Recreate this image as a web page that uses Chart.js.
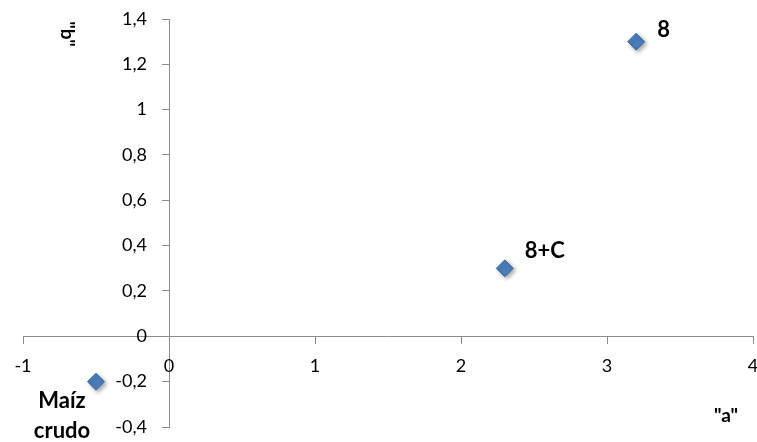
<!DOCTYPE html>
<html>
<head>
<meta charset="utf-8">
<script src="https://cdn.jsdelivr.net/npm/chart.js@4/dist/chart.umd.min.js"></script>
<style>
  html, body { margin: 0; padding: 0; background: #fff; overflow: hidden; }
  #wrap { width: 757px; height: 442px; }
  canvas { display: block; }
</style>
</head>
<body>
<div id="wrap"><canvas id="chart"></canvas></div>
<script>
const samples = ['8', '8+C', 'Maíz crudo'];
const aValues = [3.2, 2.3, -0.5];
const bValues = [1.3, 0.3, -0.2];
const xTicks = [-1, 0, 1, 2, 3, 4];
const yTicks = [-0.4, -0.2, 0, 0.2, 0.4, 0.6, 0.8, 1, 1.2, 1.4];

const AXIS = '#8c8c8c';
const FONT = 'Lato, "Open Sans", sans-serif';

const fmt = v => String(Number(v.toFixed(1))).replace('.', ',');

// point labels, offset from each marker
const labelOffsets = [
  { dx: 21, dy: -12, align: 'left', lines: ['8'] },
  { dx: 20, dy: -17, align: 'left', lines: ['8+C'] },
  { dx: -34, dy: 19, align: 'center', lines: ['Maíz', 'crudo'] },
];

const pointLabels = {
  id: 'pointLabels',
  beforeDatasetDraw(chart) {
    const ctx = chart.ctx;
    ctx.save();
    ctx.shadowColor = 'rgba(0,0,0,0.35)';
    ctx.shadowBlur = 4;
    ctx.shadowOffsetX = 2;
    ctx.shadowOffsetY = 2;
  },
  afterDatasetDraw(chart) {
    chart.ctx.restore();
  },
  afterDraw(chart) {
    const ctx = chart.ctx;
    const { x, y } = chart.scales;
    const axisX = x.getPixelForValue(0);
    const axisY = y.getPixelForValue(0);
    ctx.save();
    ctx.fillStyle = '#000';
    ctx.textBaseline = 'middle';

    // tick labels hang off the crossing axes
    ctx.font = '18px ' + FONT;
    ctx.textAlign = 'right';
    yTicks.forEach(v => ctx.fillText(fmt(v), axisX - 22, y.getPixelForValue(v)));
    ctx.textAlign = 'center';
    xTicks.forEach(v => ctx.fillText(fmt(v), x.getPixelForValue(v), axisY + 30));

    ctx.font = 'bold 22px ' + FONT;
    chart.getDatasetMeta(0).data.forEach((pt, i) => {
      const o = labelOffsets[i];
      ctx.textAlign = o.align;
      o.lines.forEach((line, k) => ctx.fillText(line, pt.x + o.dx, pt.y + o.dy + k * 30));
    });

    // axis titles
    ctx.font = 'bold 19px ' + FONT;
    ctx.textAlign = 'center';
    ctx.fillText('"a"', 726, 416);
    ctx.translate(67, 34);
    ctx.rotate(Math.PI / 2);
    ctx.fillText('"b"', 0, 0);
    ctx.restore();
  }
};

const noPad = s => { s.paddingLeft = 0; s.paddingRight = 0; s.paddingTop = 0; s.paddingBottom = 0; };

new Chart(document.getElementById('chart'), {
  type: 'scatter',
  data: {
    datasets: [{
      label: 'Muestras',
      data: aValues.map((a, i) => ({ x: a, y: bValues[i] })),
      pointStyle: 'rectRot',
      pointRadius: 8.5,
      pointHoverRadius: 8.5,
      backgroundColor: '#4a7ebb',
      borderColor: '#3c6a9f',
      borderWidth: 1,
    }]
  },
  options: {
    responsive: true,
    maintainAspectRatio: false,
    animation: false,
    events: [],
    layout: { autoPadding: false, padding: { left: 23, right: 4, top: 19, bottom: 15 } },
    plugins: { legend: { display: false }, tooltip: { enabled: false } },
    scales: {
      x: {
        type: 'linear',
        position: { y: 0 },
        min: -1, max: 4,
        afterBuildTicks: s => { s.ticks = xTicks.map(v => ({ value: v })); },
        afterFit: noPad,
        border: { display: true, color: AXIS, width: 1 },
        grid: { drawOnChartArea: false, drawTicks: true, tickLength: 7, color: AXIS },
        ticks: { display: false }
      },
      y: {
        type: 'linear',
        position: { x: 0 },
        min: -0.4, max: 1.4,
        afterBuildTicks: s => { s.ticks = yTicks.map(v => ({ value: v })); },
        afterFit: noPad,
        border: { display: true, color: AXIS, width: 1 },
        grid: { drawOnChartArea: false, drawTicks: true, tickLength: 7, color: AXIS },
        ticks: { display: false }
      }
    }
  },
  plugins: [pointLabels]
});
</script>
</body>
</html>
